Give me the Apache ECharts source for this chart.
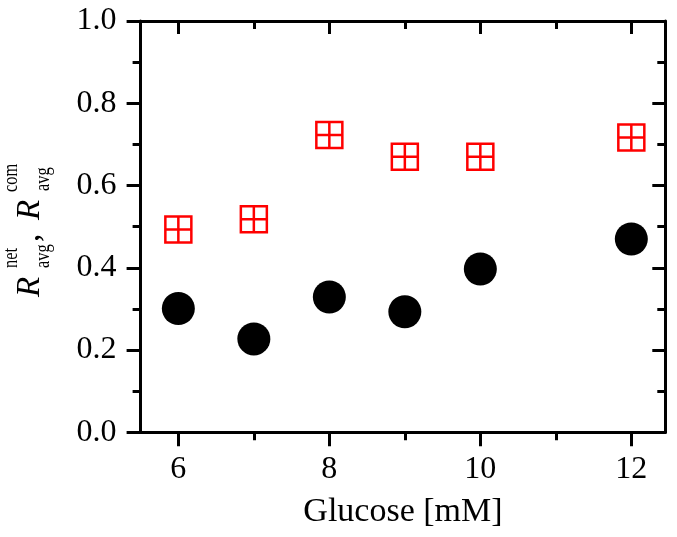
<!DOCTYPE html>
<html>
<head>
<meta charset="utf-8">
<script src="https://cdn.jsdelivr.net/npm/echarts@6/dist/echarts.min.js"></script>
<style>html,body{margin:0;padding:0;background:#fff}#c{width:677px;height:537px}</style>
</head>
<body>
<div id="c"></div>
<script>
var glucose = [6, 7, 8, 9, 10, 12];
var rNet = [0.301, 0.227, 0.329, 0.293, 0.397, 0.470];
var rCom = [0.493, 0.518, 0.723, 0.670, 0.670, 0.717];
var xMajorTicks = [6, 8, 10, 12];
var xMinorTicks = [7, 9, 11];
var xLabel = 'Glucose [mM]';

var FONT = '"Liberation Serif", "Times New Roman", serif';
var LW = 3;
var X_MIN = 5.5, X_MAX = 12.45;

function xAx(pos, ticks, len, inside, showLine, showLabel, extra) {
  var a = {
    type: 'value', position: pos, min: X_MIN, max: X_MAX,
    axisLine: {show: showLine, onZero: false, lineStyle: {color: '#000', width: LW}},
    axisTick: {show: true, inside: inside, length: len, customValues: ticks, lineStyle: {color: '#000', width: LW}},
    axisLabel: showLabel ? {show: true, customValues: ticks, margin: 21, color: '#000', fontFamily: FONT, fontSize: 32} : {show: false},
    splitLine: {show: false}
  };
  if (extra) for (var k in extra) a[k] = extra[k];
  return a;
}
function yAx(pos, interval, len, inside, showLine, showLabel) {
  return {
    type: 'value', position: pos, min: 0, max: 1, interval: interval,
    axisLine: {show: showLine, onZero: false, lineStyle: {color: '#000', width: LW}},
    axisTick: {show: true, inside: inside, length: len, lineStyle: {color: '#000', width: LW}},
    axisLabel: showLabel ? {show: true, margin: 24, color: '#000', fontFamily: FONT, fontSize: 32,
      formatter: function (v) { return v.toFixed(1); }} : {show: false},
    splitLine: {show: false}
  };
}

var netData = glucose.map(function (g, i) { return [g, rNet[i]]; });
var comData = glucose.map(function (g, i) { return [g, rCom[i]]; });

function t(txt, x, y, size, italic, sx) {
  return {type: 'text', x: x, y: y, scaleX: sx || 1, originX: 0, originY: 0,
    style: {text: txt, font: (italic ? 'italic ' : '') + size + 'px ' + FONT, fill: '#000', align: 'left', verticalAlign: 'middle'}};
}

var chart = echarts.init(document.getElementById('c'), null, {renderer: 'canvas'});
chart.setOption({
  backgroundColor: '#fff',
  animation: false,
  grid: {left: 140.6, right: 11.7, top: 21, bottom: 104.7, containLabel: false},
  xAxis: [
    xAx('bottom', xMajorTicks, 14, false, true, true, {
      name: xLabel, nameLocation: 'middle', nameGap: 63,
      nameTextStyle: {color: '#000', fontFamily: FONT, fontSize: 34}
    }),
    xAx('bottom', xMinorTicks, 8, false, false, false),
    xAx('top', xMajorTicks, 13, true, true, false),
    xAx('top', xMinorTicks, 8, true, false, false)
  ],
  yAxis: [
    yAx('left', 0.2, 14, false, true, true),
    yAx('left', 0.1, 8, false, false, false),
    yAx('right', 0.2, 13, true, true, false),
    yAx('right', 0.1, 8, true, false, false)
  ],
  series: [
    {
      type: 'scatter', xAxisIndex: 0, yAxisIndex: 0, data: netData,
      symbol: 'circle', symbolSize: 33,
      itemStyle: {color: '#000', opacity: 1}
    },
    {
      type: 'scatter', xAxisIndex: 0, yAxisIndex: 0, data: comData,
      symbol: 'path://M0,0H10V10H0Z M5,0V10 M0,5H10', symbolSize: 26,
      itemStyle: {color: 'rgba(0,0,0,0)', borderColor: '#ff0000', borderWidth: 2.5, opacity: 1}
    }
  ],
  graphic: [{
    type: 'group', x: 40, y: 297, rotation: Math.PI / 2,
    children: [
      t('R', 0, -10, 33, true),
      t('net', 29, -29, 21, false, 0.78),
      t('avg', 29, 3.5, 21, false, 0.78),
      t(',', 55, -10, 33, false),
      t('R', 77, -10, 33, true),
      t('com', 105, -29, 21, false, 0.78),
      t('avg', 106, 3.5, 21, false, 0.78)
    ]
  }]
});
</script>
</body>
</html>
